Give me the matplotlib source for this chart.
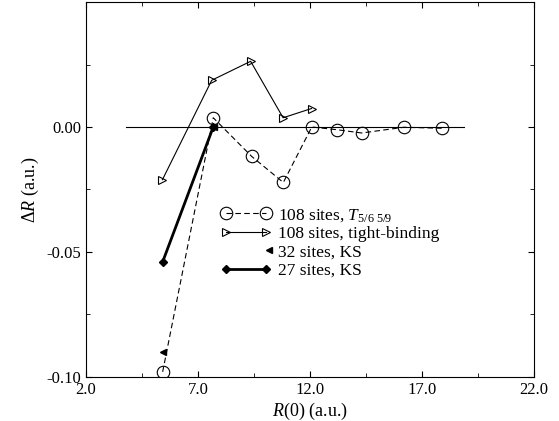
import numpy as np
import matplotlib as mpl
import matplotlib.pyplot as plt
from matplotlib.legend_handler import HandlerLine2D

plt.rcParams['font.family'] = ['Liberation Serif', 'DejaVu Serif']
plt.rcParams['mathtext.fontset'] = 'custom'
plt.rcParams['mathtext.it'] = 'Liberation Serif:italic'
plt.rcParams['mathtext.rm'] = 'Liberation Serif'

# 108 sites, T_{5/6 5/9}
r_t = [5.42, 7.68, 9.40, 10.81, 12.08, 13.22, 14.31, 16.20, 17.88]
dr_t = [-0.098, 0.0037, -0.0118, -0.0222, 0.0, -0.0011, -0.0024, -0.0001, -0.0005]
# 108 sites, tight-binding
r_tb = [5.41, 7.61, 9.35, 10.80, 12.07]
dr_tb = [-0.0211, 0.0187, 0.0263, 0.0037, 0.0074]
# 32 sites, KS
r_32 = [5.45, 7.70]
dr_32 = [-0.090, 0.0]
# 27 sites, KS
r_27 = [5.42, 7.68]
dr_27 = [-0.054, 0.0]

xticks = [2.0, 7.0, 12.0, 17.0, 22.0]
yticks = [-0.10, -0.05, 0.00]


class RightMarker(HandlerLine2D):
    # single marker at the right end of the handle
    def get_xdata(self, legend, xdescent, ydescent, width, height, fontsize):
        x = np.array([-xdescent + width - 2])
        return x, x


fig = plt.figure(figsize=(5.59, 4.21), dpi=100)
ax = fig.add_axes([0.154, 0.105, 0.801, 0.89])

ax.plot([3.8, 18.9], [0, 0], color='black', lw=0.8, zorder=1)

h1, = ax.plot(r_t, dr_t, ls=(0, (5, 3)), color='black', lw=0.8, marker='o', ms=9,
              mfc='none', mec='black', mew=0.8, zorder=3)
h2, = ax.plot(r_tb, dr_tb, ls='-', color='black', lw=0.8, marker='>', ms=6,
              mfc='none', mec='black', mew=0.8, zorder=3)
h3, = ax.plot(r_32, dr_32, ls='none', color='black', marker='<', ms=5, zorder=4)
h4, = ax.plot(r_27, dr_27, ls='-', color='black', lw=2.0, marker='D', ms=4, zorder=4)

ax.set_xlim(2.0, 22.0)
ax.set_ylim(-0.10, 0.05)
ax.set_xticks(xticks)
ax.set_xticklabels(['%.1f' % v for v in xticks])
ax.set_xticks([4.5, 9.5, 14.5, 19.5], minor=True)
ax.set_yticks(yticks)
ax.set_yticklabels(['%.2f' % v for v in yticks])
ax.set_yticks([-0.075, -0.025, 0.025], minor=True)
ax.tick_params(which='both', direction='in', top=True, right=True, labelsize=12)
ax.tick_params(which='major', length=4)
ax.tick_params(which='minor', length=3)

ax.set_xlabel(r'$R$(0) (a.u.)', fontsize=13, labelpad=2)
ax.set_ylabel(r'$\Delta R$ (a.u.)', fontsize=13, labelpad=4)

leg = ax.legend([h1, h2, h3, h4],
                [r'108 sites, $T_{5/6\ 5/9}$', '108 sites, tight-binding',
                 '32 sites, KS', '27 sites, KS'],
                handler_map={h3: RightMarker()},
                loc='upper left', bbox_to_anchor=(214 / 559, 1 - 200 / 421),
                bbox_transform=fig.transFigure, frameon=False, fontsize=12.5,
                handlelength=2.9, handletextpad=0.4, labelspacing=0.13,
                borderaxespad=0, numpoints=2)

fig.savefig('out.png', dpi=100)
